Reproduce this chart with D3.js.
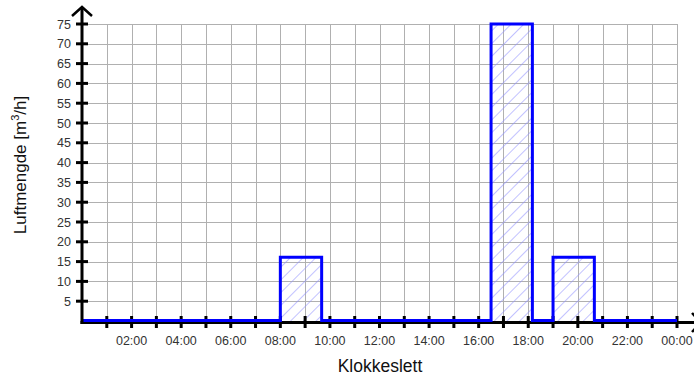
<!DOCTYPE html>
<html>
<head>
<meta charset="utf-8">
<script src="https://cdn.jsdelivr.net/npm/d3@7"></script>
<style>
  html, body { margin: 0; padding: 0; background: #fff; }
  svg { display: block; font-family: "Liberation Sans", Arial, sans-serif; }
</style>
</head>
<body>
<svg id="chart" width="694" height="377"></svg>
<script>
// Ventilation periods (hours of the day) and air flow in m³/h
const periodStart = [8, 16.5, 19];
const periodEnd   = [9 + 40 / 60, 18 + 10 / 60, 20 + 40 / 60];
const periodFlow  = [16.1, 75, 16.1];

const yTicks = [5, 10, 15, 20, 25, 30, 35, 40, 45, 50, 55, 60, 65, 70, 75];
const hourTicks = d3.range(1, 25);
const xLabels = ["02:00", "04:00", "06:00", "08:00", "10:00", "12:00",
                 "14:00", "16:00", "18:00", "20:00", "22:00", "00:00"];

const svg = d3.select("#chart");
const x = d3.scaleLinear().domain([0, 24]).range([82, 677]);
const y = d3.scaleLinear().domain([0, 75]).range([321, 24]);

// step profile over the whole day
const profile = [{ t: 0, v: 0 }];
periodStart.forEach((s, i) => {
  profile.push({ t: s, v: periodFlow[i] });
  profile.push({ t: periodEnd[i], v: 0 });
});
profile.push({ t: 24, v: 0 });

// hatch pattern
const defs = svg.append("defs");
const pat = defs.append("pattern")
  .attr("id", "hatch")
  .attr("patternUnits", "userSpaceOnUse")
  .attr("width", 9).attr("height", 9)
  .attr("patternTransform", "rotate(45)");
pat.append("line")
  .attr("x1", 0).attr("y1", 0).attr("x2", 0).attr("y2", 9)
  .attr("stroke", "#8f8fff").attr("stroke-width", 1.1);

// grid
const grid = svg.append("g").attr("stroke", "#b0b0b0").attr("stroke-width", 1);
grid.selectAll(".h").data(yTicks).join("line")
  .attr("x1", x(0)).attr("x2", x(24))
  .attr("y1", d => Math.round(y(d)) + 0.5).attr("y2", d => Math.round(y(d)) + 0.5);
grid.selectAll(".v").data(hourTicks).join("line")
  .attr("x1", d => Math.round(x(d)) + 0.5).attr("x2", d => Math.round(x(d)) + 0.5)
  .attr("y1", y(75)).attr("y2", y(0));

// hatched area under the step profile
svg.append("path").datum(profile)
  .attr("fill", "url(#hatch)")
  .attr("d", d3.area().x(d => x(d.t)).y0(y(0)).y1(d => y(d.v)).curve(d3.curveStepAfter));

// x axis line (black) with arrow running off the right edge
const axisCol = "#000";
svg.append("line")
  .attr("x1", x(0) - 1.5).attr("x2", 700)
  .attr("y1", 322.5).attr("y2", 322.5)
  .attr("stroke", axisCol).attr("stroke-width", 3);
svg.append("path")
  .attr("d", `M692,313 L701,322.5 L692,332`)
  .attr("fill", "none").attr("stroke", axisCol).attr("stroke-width", 2.5);

// x ticks
svg.append("g").selectAll("line").data(hourTicks).join("line")
  .attr("x1", d => x(d)).attr("x2", d => x(d))
  .attr("y1", 316).attr("y2", 328)
  .attr("stroke", axisCol).attr("stroke-width", 3);

// step line
svg.append("path").datum(profile)
  .attr("fill", "none").attr("stroke", "#0000ff").attr("stroke-width", 3)
  .attr("stroke-linejoin", "miter")
  .attr("d", d3.line().x(d => x(d.t)).y(d => Math.min(y(d.v), 320.5)).curve(d3.curveStepAfter));

// y axis with arrow
svg.append("line")
  .attr("x1", x(0)).attr("x2", x(0))
  .attr("y1", 324).attr("y2", 8)
  .attr("stroke", axisCol).attr("stroke-width", 3);
svg.append("path")
  .attr("d", `M72,16 L82,7 L92,16`)
  .attr("fill", "none").attr("stroke", axisCol).attr("stroke-width", 2.5);
svg.append("g").selectAll("line").data(yTicks).join("line")
  .attr("x1", 76).attr("x2", 88)
  .attr("y1", d => y(d)).attr("y2", d => y(d))
  .attr("stroke", axisCol).attr("stroke-width", 3);

// tick labels
svg.append("g").selectAll("text").data(yTicks).join("text")
  .attr("x", 71).attr("y", d => y(d) + 4.5)
  .attr("text-anchor", "end").attr("font-size", 12.5).attr("fill", "#333")
  .text(d => d);
svg.append("g").selectAll("text").data(xLabels).join("text")
  .attr("x", (d, i) => x((i + 1) * 2)).attr("y", 345)
  .attr("text-anchor", "middle").attr("font-size", 12.5).attr("fill", "#333")
  .text(d => d);

// axis titles
svg.append("text")
  .attr("x", 380).attr("y", 372)
  .attr("text-anchor", "middle").attr("font-size", 17.5).attr("fill", "#111")
  .text("Klokkeslett");
const yt = svg.append("text")
  .attr("transform", "translate(26,165) rotate(-90)")
  .attr("text-anchor", "middle").attr("font-size", 17).attr("fill", "#111");
yt.append("tspan").text("Luftmengde [m");
yt.append("tspan").attr("font-size", 11).attr("dy", -7).text("3");
yt.append("tspan").attr("dy", 7).text("/h]");
</script>
</body>
</html>
